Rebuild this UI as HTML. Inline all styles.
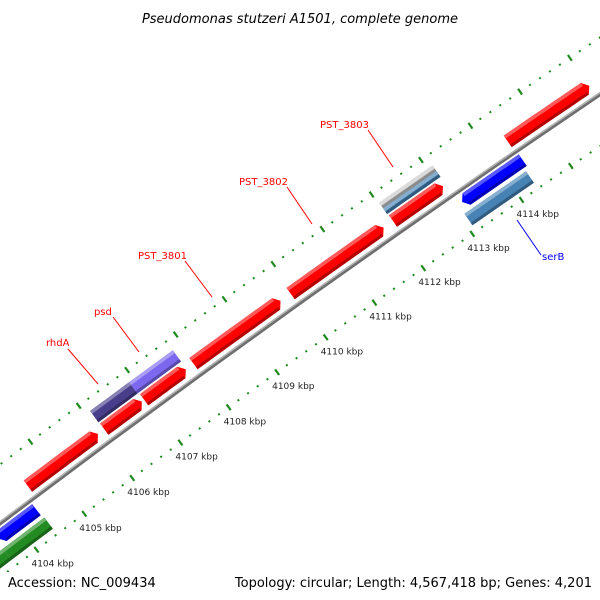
<!DOCTYPE html>
<html><head><meta charset="utf-8">
<style>
html,body{margin:0;padding:0;background:#fff;}
svg{display:block;font-family:"DejaVu Sans","Liberation Sans",sans-serif;}
</style></head>
<body>
<svg id="map" width="600" height="600" viewBox="0 0 600 600">
<rect width="600" height="600" fill="#fff"/>
<g id="ticks"></g>
<g id="backbone"></g>
<g id="feats"></g>
<g id="labels"></g>
<g font-size="10">
  <line x1="68" y1="349" x2="98" y2="384" stroke="#f00" stroke-width="1"/>
  <text x="46" y="346" fill="#f00">rhdA</text>
  <line x1="113" y1="317" x2="139" y2="352" stroke="#f00" stroke-width="1"/>
  <text x="94" y="315" fill="#f00">psd</text>
  <line x1="185" y1="261" x2="212" y2="297" stroke="#f00" stroke-width="1"/>
  <text x="138" y="259" fill="#f00">PST_3801</text>
  <line x1="287" y1="187" x2="312" y2="224" stroke="#f00" stroke-width="1"/>
  <text x="239" y="185" fill="#f00">PST_3802</text>
  <line x1="368" y1="130" x2="393" y2="167" stroke="#f00" stroke-width="1"/>
  <text x="320" y="128" fill="#f00">PST_3803</text>
  <line x1="517" y1="220" x2="541" y2="255" stroke="#00f" stroke-width="1"/>
  <text x="542" y="260" fill="#00f">serB</text>
</g>
<text x="300" y="23" text-anchor="middle" font-size="13" font-style="italic" fill="#000">Pseudomonas stutzeri A1501, complete genome</text>
<rect x="0" y="572" width="168" height="28" fill="#fff"/>
<text x="8" y="587" font-size="13" fill="#000">Accession: NC_009434</text>
<text x="592" y="587" text-anchor="end" font-size="13" fill="#000">Topology: circular; Length: 4,567,418 bp; Genes: 4,201</text>
</svg>
<script>
// data
const featStarts = [4104525,4106110,4106935,4107953,4109948,4112038,4114363, 4106100,4106907, 4112023,4112023, 4113163,4102500,4103600, 4113083,4102000,4103560];
const featEnds   = [4105978,4106887,4107795,4109742,4111847,4113053,4116008, 4106907,4107807, 4113107,4113107, 4114392,4103550,4104402, 4114332,4103560,4104430];
const featNames  = ['feature-4104','feature-4106a','feature-4106b','pst-3801','pst-3802','pst-3803','feature-4115','rhdA','psd','gene-4112-gray','gene-4112-blue','serB-upstream','feature-4103a','feature-4103b','serB','feature-4102-green','feature-4104-green'];
const featColors = ['#ff0000','#ff0000','#ff0000','#ff0000','#ff0000','#ff0000','#ff0000','#483d8b','#7b68ee','#c8c8c8','#4682b4','#0000ff','#0000ff','#0000ff','#4682b4','#228b22','#228b22'];
const featInner  = [5,5,5,5,5,5,5, 21,21, 28,21, -19,-19,-19, -37,-37,-37];
const featOuter  = [19,19,19,19,19,19,19, 35,35, 35,28, -5,-5,-5, -23,-23,-23];
const featArrow  = [1,1,1,1,1,1,1, 0,0, 0,0, -1,-1,-1, 0,0,0];
const tickStart = 4102000, tickEnd = 4118000, minorStep = 200, majorStep = 1000;
const labelKbp = [4104,4105,4106,4107,4108,4109,4110,4111,4112,4113,4114];

// geometry
const R = 14000, B0 = 4109000, PXKB = 60;
const P0 = [251.6, 336.8];
const C = [P0[0] + R*0.585, P0[1] + R*0.811];
const PHI0 = Math.atan2(-0.811, -0.585);
function pt(bp, n){
  const phi = PHI0 + (bp - B0)/1000*PXKB/R;
  const r = R + n;
  return [C[0] + r*Math.cos(phi), C[1] + r*Math.sin(phi)];
}
const NS='http://www.w3.org/2000/svg';
function mk(tag, attrs, parent){
  const e=document.createElementNS(NS,tag);
  for(const k in attrs) e.setAttribute(k, attrs[k]);
  parent.appendChild(e); return e;
}
function arcPts(b1,b2,n){const o=[];const steps=8;for(let i=0;i<=steps;i++){o.push(pt(b1+(b2-b1)*i/steps,n));}return o;}
const fmt=a=>a.map(p=>p[0].toFixed(1)+','+p[1].toFixed(1)).join(' ');

// backbone
const bb=document.getElementById('backbone');
const b1=mk('polyline',{points:fmt(arcPts(4102000,4118000,-1)),fill:'none',stroke:'#6e6e6e','stroke-width':4},bb);


const b2=mk('polyline',{points:fmt(arcPts(4102000,4118000,0.3)),fill:'none',stroke:'#b4b4b4','stroke-width':1.5},bb);



// ticks
const tg=document.getElementById('ticks');
for(let bp=tickStart; bp<=tickEnd; bp+=minorStep){
  const major = bp % majorStep === 0;
  [46,-44].forEach(n=>{
    const h = major?3.5:1;
    const a=pt(bp,n-h), b=pt(bp,n+h);
    const l=mk('line',{x1:a[0],y1:a[1],x2:b[0],y2:b[1],stroke:'#1f8a1f','stroke-width':major?2.2:2},tg);
    
    
  });
}
const lg=document.getElementById('labels');
labelKbp.forEach(k=>{
  const p=pt(k*1000,-44);
  const t=mk('text',{x:p[0]-5,y:p[1]+17,'font-size':9,fill:'#222'},lg);
  t.textContent=k+' kbp';
  
  
});

// features
function shade(hex,f){
  const v=[1,3,5].map(i=>parseInt(hex.substr(i,2),16));
  const o=v.map(c=>f>0?Math.round(c+(255-c)*f):Math.round(c*(1+f)));
  return 'rgb('+o.join(',')+')';
}
const fg=document.getElementById('feats');
featStarts.forEach((s,i)=>{
  const e=featEnds[i], ni=featInner[i], no=featOuter[i], col=featColors[i];
  const mid=(ni+no)/2, a=90;
  const g=mk('g',{},fg);
  
  
  let bs=s, be=e, poly;
  if(featArrow[i]===1){ be=e-a; poly=[...arcPts(s,be,ni), pt(e,mid), ...arcPts(s,be,no).reverse()]; }
  else if(featArrow[i]===-1){ bs=s+a; poly=[pt(s,mid), ...arcPts(bs,e,ni), ...arcPts(bs,e,no).reverse()]; }
  else { poly=[...arcPts(s,e,ni), ...arcPts(s,e,no).reverse()]; }
  const body=mk('polygon',{points:fmt(poly),fill:col},g);
  
  
  const top=mk('polygon',{points:fmt([...arcPts(bs,be,no-3.5),...arcPts(bs,be,no).reverse()]),fill:shade(col,0.35)},g);
  
  
  const bot=mk('polygon',{points:fmt([...arcPts(bs,be,ni),...arcPts(bs,be,ni+3).reverse()]),fill:shade(col,-0.3)},g);
  
  
});
</script>
</body></html>
